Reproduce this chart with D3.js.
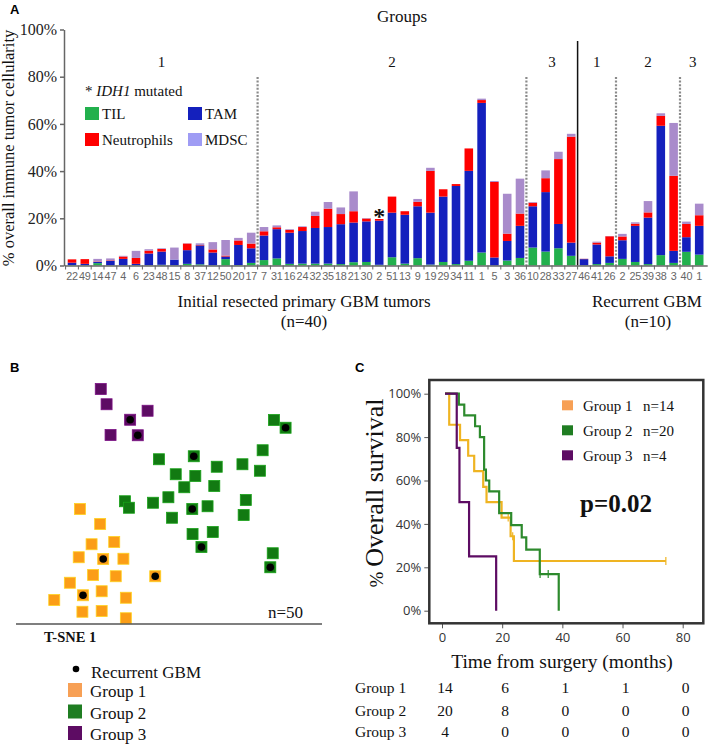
<!DOCTYPE html>
<html>
<head>
<meta charset="utf-8">
<script src="https://d3js.org/d3.v7.min.js"></script>
<style>
  body { margin: 0; background: #fff; }
  svg { display: block; }
  .serif { font-family: "Liberation Serif", "Times New Roman", serif; fill: #111; }
  .panel { font-family: "Liberation Sans", Arial, sans-serif; font-weight: bold; font-size: 13px; }
  .xlab text { font-family: "Liberation Sans", sans-serif; font-size: 10.8px; fill: #666; letter-spacing: -0.2px; }
  .yA text { font-family: "Liberation Serif", serif; font-size: 16px; fill: #222; }
  .yA line, .yA path { stroke: #666; stroke-width: 1.5; }
  .axC text { font-family: "Open Sans", sans-serif; font-size: 13px; fill: #333; }
  .axC line { stroke: #555; }
  .axC path { display: none; }
</style>
</head>
<body>
<script>
// ---- panel A data: patient ids and % immune cellularity per cell type
var ids = ["22","49","14","47","4","6","23","48","15","8","37","12","50","20","17",
           "7","31","16","24","32","35","18","21","30","2","51","13","9","19","29","34","11","1","5","3","36",
           "10","28","33","27",
           "46","41","26",
           "2","25","39","38","3",
           "40","1"];
var til  = [0.2,0.1,1.0,0.1,0.1,0.1,0.1,0.3,0.1,0.7,0.5,0.1,2.7,0.2,1.1,
            2.3,3.0,0.7,0.8,0.8,0.8,0.6,1.4,1.5,0.3,3.5,0.8,3.1,0.4,1.5,0.6,2.0,5.5,0,2.1,3.2,
            7.6,5.9,7.3,4.1,
            0.1,0.6,1.1,
            2.8,1.5,0.6,4.4,1.1,
            5.8,4.6];
var tam  = [1.0,0.6,0.5,1.9,2.7,0.6,5.0,5.6,2.4,5.8,8.0,5.4,1.1,8.5,6.2,
            10.4,12.4,13.2,13.8,15.1,15.5,16.9,16.8,17.2,18.7,18.9,20.7,22.0,22.0,27.7,33.1,38.1,63.4,3.4,8.3,13.6,
            17.5,25.2,10.3,5.6,
            2.6,8.3,2.8,
            7.9,15.3,19.7,54.8,5.1,
            6.2,12.2];
var neut = [1.4,2.0,0.2,0.2,1.0,2.5,1.2,1.1,0,2.8,0.2,1.3,0.4,1.9,2.0,
            1.8,0.8,1.2,1.7,5.1,7.8,4.3,4.8,1.2,0.7,6.8,1.5,1.9,17.7,3.1,0.8,9.5,1.2,32.0,3.1,5.2,
            1.5,5.9,27.5,44.9,
            0.1,0.8,8.5,
            1.6,0.9,2.2,4.2,31.8,
            5.6,4.5];
var mdsc = [0,0,1.1,0.8,0.3,3.0,0.6,0.3,5.1,0.1,0.7,3.1,6.6,1.1,4.6,
            1.8,0.8,0.3,0.3,1.8,2.8,2.8,8.4,0.2,0,0,0,1.2,1.3,0,0,0,0.6,0.4,16.9,14.8,
            0.3,3.3,3.1,1.2,
            0.1,0.4,0.1,
            1.1,0.6,4.8,1.1,22.4,
            1.0,4.9];
var cellTypes = ["TIL", "TAM", "Neutrophils", "MDSC"];
var cellColors = ["#22b04d", "#1420bd", "#ff0000", "#a98bcb"];
var idhIndex = 24;   // bar "2" is IDH1 mutated
var groupSpans = [ {label:"1", from:0, to:14}, {label:"2", from:15, to:35}, {label:"3", from:36, to:39},
                   {label:"1", from:40, to:42}, {label:"2", from:43, to:47}, {label:"3", from:48, to:49} ];
var breaks = [ {at:15, solid:false}, {at:36, solid:false}, {at:40, solid:true}, {at:43, solid:false}, {at:48, solid:false} ];

// ---- panel B data: t-SNE coordinates (arbitrary units)
var g1x = [20.9,27.5,24.7,32.1,20.5,28.5,35.1,25.2,32.6,45.5,17.6,28.0,21.9,35.9,12.5,21.7,28.0,35.9];
var g1y = [46.0,40.0,31.9,32.8,26.7,26.0,26.1,19.6,19.1,19.1,16.5,13.1,11.5,10.5,9.6,4.9,5.2,2.3];
var g1rec = [0,0,0,0,0,1,0,0,0,1,0,0,1,0,0,0,0,0];
var g2x = [84.3,88.1,80.6,46.7,58.1,65.6,74.0,79.7,52.2,58.6,64.8,55.0,35.6,36.9,44.8,49.8,57.6,62.6,75.1,51.0,74.4,57.7,64.3,60.6,83.9,83.1];
var g2y = [81.6,78.5,69.5,65.9,67.1,62.9,63.9,61.3,59.9,59.2,55.2,54.7,49.1,46.5,48.5,50.7,46.0,47.1,49.6,42.5,43.6,36.0,36.8,30.8,28.3,22.7];
var g2rec = [0,1,0,0,1,0,0,0,0,0,0,0,0,0,0,0,1,0,0,0,0,0,0,1,0,1];
var g3x = [27.7,29.6,43.0,37.3,30.9,39.8];
var g3y = [94.0,87.9,85.3,81.7,75.6,75.5];
var g3rec = [0,0,0,1,0,1];
var groupColors = ["#fb9d17", "#127a12", "#5d0c63"];
var legendColors = ["#f7a055", "#1f7d22", "#5d0c63"];

// ---- panel C data: Kaplan-Meier steps (months, % surviving)
var km1t = [1, 2.4, 6.0, 8.7, 10.7, 13.7, 14.8, 19.8, 22.8, 23.9, 74.4];
var km1s = [100, 85.7, 78.6, 71.4, 64.3, 57.1, 50, 42.9, 34.3, 22.9, 22.9];
var km1cens = [22, 23.5, 74.4];
var km2t = [1, 5.6, 7.4, 11, 12.6, 14, 14.6, 15.7, 19, 23, 26.5, 28, 32.5, 38.8];
var km2s = [100, 95, 90, 85, 80, 65, 60, 55, 45, 39.4, 33.8, 28.1, 16.9, 0];
var km2cens = [32.6, 35.3];
var km3t = [1, 4.9, 5.8, 9, 18];
var km3s = [100, 75, 50, 25, 0];
var km3cens = [];
var kmColors = ["#efb422", "#2d8a2d", "#5d0c63"];
var kmLegend = [ {name:"Group 1", n:"n=14"}, {name:"Group 2", n:"n=20"}, {name:"Group 3", n:"n=4"} ];
var riskTimes = [0, 20, 40, 60, 80];
var risk1 = [14, 6, 1, 1, 0];
var risk2 = [20, 8, 0, 0, 0];
var risk3 = [4, 0, 0, 0, 0];

var svg = d3.select("body").append("svg").attr("width", 709).attr("height", 747);

// ================= Panel A =================
var xA = d3.scaleBand().domain(d3.range(ids.length)).range([64, 707.2]).paddingInner(0.33).paddingOuter(0.29);
var yA = d3.scaleLinear().domain([0, 100]).range([265.5, 29.5]);

svg.append("text").attr("class", "panel").attr("x", 10).attr("y", 14).text("A");

var rows = ids.map(function (id, i) {
    return {i: i, TIL: til[i], TAM: tam[i], Neutrophils: neut[i], MDSC: mdsc[i]};
});
var layers = d3.stack().keys(cellTypes)(rows);

svg.append("g").selectAll("g")
    .data(layers).join("g")
    .attr("fill", function (d, k) { return cellColors[k]; })
    .selectAll("rect")
    .data(function (d) { return d; }).join("rect")
    .attr("x", function (d, i) { return xA(i); })
    .attr("y", function (d) { return yA(d[1]); })
    .attr("width", xA.bandwidth())
    .attr("height", function (d) { return yA(d[0]) - yA(d[1]); });

// group separators
var edge = function (i) { return xA(i) - xA.step() * xA.paddingInner() / 2; };
svg.append("g").selectAll("line")
    .data(breaks).join("line")
    .attr("x1", function (d) { return edge(d.at); })
    .attr("x2", function (d) { return edge(d.at); })
    .attr("y1", function (d) { return d.solid ? 41 : 77; })
    .attr("y2", yA(0))
    .attr("stroke", function (d) { return d.solid ? "#111" : "#8a8a8a"; })
    .attr("stroke-width", function (d) { return d.solid ? 1.5 : 2.2; })
    .attr("stroke-dasharray", function (d) { return d.solid ? null : "2,1.6"; });

// y axis
svg.append("g").attr("class", "yA")
    .attr("transform", "translate(64,0)")
    .call(d3.axisLeft(yA).tickValues(d3.range(0, 101, 20)).tickFormat(function (d) { return d + "%"; })
        .tickSize(4).tickSizeOuter(0).tickPadding(3));

// x axis with patient ids
var xAxA = svg.append("g").attr("class", "xlab")
    .attr("transform", "translate(0," + yA(0) + ")")
    .call(d3.axisBottom(xA).tickFormat(function (i) { return ids[i]; }).tickSize(0).tickPadding(7));
xAxA.select(".domain").attr("stroke", "#666").attr("stroke-width", 1.5);
svg.append("g").selectAll("line")
    .data(d3.range(ids.length)).join("line")
    .attr("x1", function (i) { return edge(i); }).attr("x2", function (i) { return edge(i); })
    .attr("y1", yA(0)).attr("y2", yA(0) + 4)
    .attr("stroke", "#666").attr("stroke-width", 1);

// IDH1 star
svg.append("text").attr("class", "serif")
    .attr("x", xA(idhIndex) + xA.bandwidth() / 2).attr("y", 224)
    .attr("text-anchor", "middle").attr("font-size", 24).attr("font-weight", "bold").text("*");

// group labels
svg.append("text").attr("class", "serif").attr("x", 402).attr("y", 22)
    .attr("text-anchor", "middle").attr("font-size", 17).text("Groups");
svg.append("g").selectAll("text")
    .data(groupSpans).join("text")
    .attr("class", "serif")
    .attr("x", function (d) { return (xA(d.from) + xA(d.to) + xA.bandwidth()) / 2; })
    .attr("y", 67)
    .attr("text-anchor", "middle").attr("font-size", 15)
    .text(function (d) { return d.label; });

// y title
svg.append("text").attr("class", "serif")
    .attr("transform", "translate(14,148) rotate(-90)")
    .attr("text-anchor", "middle").attr("font-size", 16.5)
    .text("% overall immune tumor cellularity");

// x titles
svg.append("text").attr("class", "serif").attr("x", 304).attr("y", 307)
    .attr("text-anchor", "middle").attr("font-size", 17).text("Initial resected primary GBM tumors");
svg.append("text").attr("class", "serif").attr("x", 304).attr("y", 327)
    .attr("text-anchor", "middle").attr("font-size", 17).text("(n=40)");
svg.append("text").attr("class", "serif").attr("x", 647).attr("y", 307)
    .attr("text-anchor", "middle").attr("font-size", 17).text("Recurrent GBM");
svg.append("text").attr("class", "serif").attr("x", 648).attr("y", 327)
    .attr("text-anchor", "middle").attr("font-size", 17).text("(n=10)");

// legend A
var legA = svg.append("g");
var idh = legA.append("text").attr("class", "serif").attr("x", 85).attr("y", 96).attr("font-size", 15);
idh.append("tspan").text("* ");
idh.append("tspan").attr("font-style", "italic").text("IDH1");
idh.append("tspan").text(" mutated");
// TIL, TAM in first row; Neutrophils, MDSC in second
var legItems = legA.selectAll("g")
    .data(cellTypes).join("g")
    .attr("transform", function (d, k) {
        var col = (k === 0 || k === 2) ? 85 : 188;
        var row = (k < 2) ? 107 : 133;
        return "translate(" + col + "," + row + ")";
    });
legItems.append("rect").attr("width", 14).attr("height", 13)
    .attr("fill", function (d, k) { return k === 3 ? "#9f9cf4" : cellColors[k]; });
legItems.append("text").attr("class", "serif").attr("x", 17).attr("y", 12).attr("font-size", 15)
    .text(function (d) { return d; });

// ================= Panel B =================
svg.append("text").attr("class", "panel").attr("x", 10).attr("y", 372).text("B");
var xB = d3.scaleLinear().domain([0, 100]).range([16, 322]);
var yB = d3.scaleLinear().domain([0, 100]).range([624, 374]);

var groupsB = [
    {x: g1x, y: g1y, rec: g1rec},
    {x: g2x, y: g2y, rec: g2rec},
    {x: g3x, y: g3y, rec: g3rec}
];
groupsB.forEach(function (g, k) {
    var pts = g.x.map(function (v, i) { return {x: v, y: g.y[i], rec: g.rec[i]}; });
    var gg = svg.append("g");
    gg.selectAll("rect").data(pts).join("rect")
        .attr("x", function (d) { return xB(d.x) - 5.5; })
        .attr("y", function (d) { return yB(d.y) - 5.5; })
        .attr("width", 11).attr("height", 11)
        .attr("fill", groupColors[k])
        .attr("stroke", d3.color(groupColors[k]).brighter(0.8))
        .attr("stroke-width", 0.8);
    gg.selectAll("circle").data(pts.filter(function (d) { return d.rec; })).join("circle")
        .attr("cx", function (d) { return xB(d.x); })
        .attr("cy", function (d) { return yB(d.y); })
        .attr("r", 3.8).attr("fill", "#000");
});

svg.append("line").attr("x1", 16).attr("x2", 322).attr("y1", 624).attr("y2", 624)
    .attr("stroke", "#555").attr("stroke-width", 1.5);
svg.append("text").attr("class", "serif").attr("x", 268).attr("y", 618).attr("font-size", 17).text("n=50");
svg.append("text").attr("class", "serif").attr("x", 44).attr("y", 642).attr("font-size", 14.5)
    .attr("font-weight", "bold").text("T-SNE 1");

svg.append("circle").attr("cx", 76).attr("cy", 669).attr("r", 3.3).attr("fill", "#000");
svg.append("text").attr("class", "serif").attr("x", 91).attr("y", 678).attr("font-size", 17).text("Recurrent GBM");
var legB = svg.append("g").selectAll("g")
    .data(["Group 1", "Group 2", "Group 3"]).join("g")
    .attr("transform", function (d, k) { return "translate(68," + (683 + k * 21.5) + ")"; });
legB.append("rect").attr("width", 14).attr("height", 14)
    .attr("fill", function (d, k) { return legendColors[k]; });
legB.append("text").attr("class", "serif").attr("x", 22).attr("y", 14).attr("font-size", 17)
    .text(function (d) { return d; });

// ================= Panel C =================
svg.append("text").attr("class", "panel").attr("x", 355).attr("y", 372).text("C");
var xC = d3.scaleLinear().domain([0, 80]).range([442, 682.7]);
var yC = d3.scaleLinear().domain([0, 100]).range([610.7, 393.7]);

svg.append("g").attr("class", "axC").attr("transform", "translate(429.3,0)")
    .call(d3.axisLeft(yC).tickValues(d3.range(0, 101, 20)).tickFormat(function (d) { return d + "%"; })
        .tickSize(5).tickPadding(3));
svg.append("g").attr("class", "axC").attr("transform", "translate(0,623.3)")
    .call(d3.axisBottom(xC).tickValues(riskTimes).tickSize(5).tickPadding(4))
    .selectAll("text").attr("font-size", 11.5).attr("fill", "#444");

var kmLine = d3.line()
    .x(function (d) { return xC(d[0]); })
    .y(function (d) { return yC(d[1]); })
    .curve(d3.curveStepAfter);
var kms = [ {t: km1t, s: km1s, c: km1cens}, {t: km2t, s: km2s, c: km2cens}, {t: km3t, s: km3s, c: km3cens} ];
kms.forEach(function (g, k) {
    var pts = g.t.map(function (t, i) { return [t, g.s[i]]; });
    svg.append("path").datum(pts)
        .attr("d", kmLine)
        .attr("fill", "none")
        .attr("stroke", kmColors[k])
        .attr("stroke-width", 2.2);
    var survAt = function (t) {
        var v = 100;
        g.t.forEach(function (tt, i) { if (tt <= t) v = g.s[i]; });
        return v;
    };
    svg.append("g").selectAll("line").data(g.c).join("line")
        .attr("x1", function (t) { return xC(t); }).attr("x2", function (t) { return xC(t); })
        .attr("y1", function (t) { return yC(survAt(t)) - 4; })
        .attr("y2", function (t) { return yC(survAt(t)) + 4; })
        .attr("stroke", kmColors[k]).attr("stroke-width", 1.2);
});

// frame
svg.append("rect").attr("x", 429.3).attr("y", 380).attr("width", 274).attr("height", 243.3)
    .attr("fill", "none").attr("stroke", "#333").attr("stroke-width", 2.5);

// KM legend
var legC = svg.append("g").selectAll("g")
    .data(kmLegend).join("g")
    .attr("transform", function (d, k) { return "translate(562," + (405.3 + k * 25) + ")"; });
legC.append("rect").attr("x", 0).attr("y", -5).attr("width", 11).attr("height", 10)
    .attr("fill", function (d, k) { return legendColors[k]; });
legC.append("text").attr("class", "serif").attr("x", 21).attr("y", 5.5).attr("font-size", 15)
    .text(function (d) { return d.name; });
legC.append("text").attr("class", "serif").attr("x", 81).attr("y", 5.5).attr("font-size", 15)
    .text(function (d) { return d.n; });

svg.append("text").attr("class", "serif").attr("x", 580).attr("y", 512)
    .attr("font-size", 25).attr("font-weight", "bold").text("p=0.02");

// y title
var yt = svg.append("text").attr("class", "serif")
    .attr("transform", "translate(383,493) rotate(-90)")
    .attr("text-anchor", "middle");
yt.append("tspan").attr("font-size", 19).text("% ");
yt.append("tspan").attr("font-size", 26).text("Overall survival");

svg.append("text").attr("class", "serif").attr("x", 562).attr("y", 668)
    .attr("text-anchor", "middle").attr("font-size", 19.5).text("Time from surgery (months)");

// risk table
var riskRows = [ {name: "Group 1", v: risk1}, {name: "Group 2", v: risk2}, {name: "Group 3", v: risk3} ];
var rr = svg.append("g").selectAll("g")
    .data(riskRows).join("g")
    .attr("transform", function (d, k) { return "translate(0," + [693, 716, 737][k] + ")"; });
rr.append("text").attr("class", "serif").attr("x", 355).attr("font-size", 15.5)
    .text(function (d) { return d.name; });
rr.selectAll("text.num")
    .data(function (d) { return d.v; }).join("text")
    .attr("class", "serif num")
    .attr("x", function (v, i) { return xC(riskTimes[i]) + 3; })
    .attr("text-anchor", "middle").attr("font-size", 15.5)
    .text(function (v) { return v; });
</script>
</body>
</html>
